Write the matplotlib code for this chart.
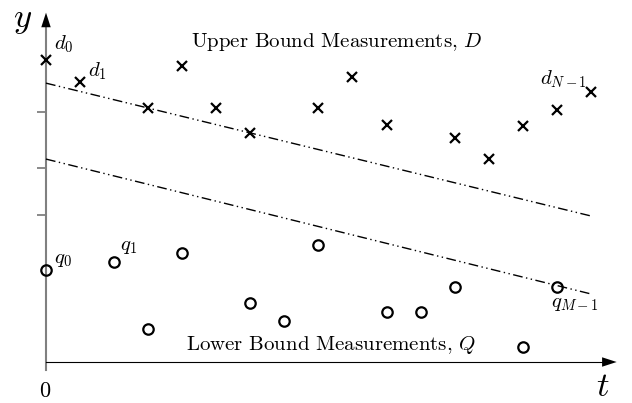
import matplotlib
matplotlib.use('Agg')
import matplotlib.pyplot as plt

plt.rcParams['mathtext.fontset'] = 'cm'
plt.rcParams['font.family'] = 'serif'
plt.rcParams['font.serif'] = ['cmr10', 'DejaVu Serif']
plt.rcParams['axes.unicode_minus'] = False

# Upper bound measurements d_i
upper_t = [0, 1, 3, 4, 5, 6, 8, 9, 10, 12, 13, 14, 15, 16]
upper_y = [8.87, 8.23, 7.47, 8.69, 7.47, 6.73, 7.46, 8.37, 6.96, 6.57, 5.95, 6.93, 7.40, 7.92]

# Lower bound measurements q_j
lower_t = [0, 2, 3, 4, 6, 7, 8, 10, 11, 12, 14, 15]
lower_y = [2.70, 2.95, 0.96, 3.21, 1.72, 1.21, 3.45, 1.46, 1.46, 2.21, 0.45, 2.21]

# Separating band (two parallel dash-dot lines)
band_t = [0, 16]
band_top = [8.19, 4.29]
band_bottom = [5.96, 2.00]

y_ticks = [7.34, 5.70, 4.32]

fig = plt.figure(figsize=(6.32, 4.03), dpi=100)
ax = fig.add_axes([0, 0, 1, 1])
ax.set_xlim(-1.351, 17.21)
ax.set_ylim(-1.204, 10.632)
ax.axis('off')

# axes with arrow heads
ax.plot([0, 0], [-0.235, 9.9], color='#808080', lw=1.5, zorder=1)
ax.plot([0, 16.4], [0, 0], color='black', lw=0.8, zorder=1)
head = dict(arrowstyle='-|>,head_length=10.5,head_width=3.4', mutation_scale=1,
            color='black', lw=0, shrinkA=0, shrinkB=0)
ax.annotate('', xy=(0, 10.26), xytext=(0, 9.84), arrowprops=head)
ax.annotate('', xy=(16.76, 0), xytext=(16.3, 0), arrowprops=head)
ax.hlines(y_ticks, -0.26, 0, color='#808080', lw=1.3, zorder=1)

dashdotdot = (0, (7, 2.5, 1, 2.5, 1, 2.5))
ax.plot(band_t, band_top, color='black', lw=1.0, linestyle=dashdotdot)
ax.plot(band_t, band_bottom, color='black', lw=1.0, linestyle=dashdotdot)

ax.plot(upper_t, upper_y, linestyle='none', marker='x', ms=7, mew=1.6, color='black', zorder=3)
ax.plot(lower_t, lower_y, linestyle='none', marker='o', ms=7.5, mew=1.6,
        mfc='none', mec='black', zorder=3)

fs = 15
ax.text(-0.68, 10.04, '$y$', fontsize=25, ha='center', va='center')
ax.text(16.36, -0.73, '$t$', fontsize=25, ha='center', va='center')
ax.text(-0.03, -0.85, '0', fontsize=16, ha='center', va='center')

ax.text(0.235, 9.34, '$d_0$', fontsize=fs, ha='left', va='center')
ax.text(1.233, 8.55, '$d_1$', fontsize=fs, ha='left', va='center')
ax.text(14.51, 8.31, '$d_{N-1}$', fontsize=fs, ha='left', va='center')
ax.text(0.235, 3.0, '$q_0$', fontsize=fs, ha='left', va='center')
ax.text(2.17, 3.38, '$q_1$', fontsize=fs, ha='left', va='center')
ax.text(14.83, 1.70, '$q_{M-1}$', fontsize=fs, ha='left', va='center')

ax.text(8.53, 9.40, 'Upper Bound Measurements, $D$', fontsize=fs, ha='center', va='center')
ax.text(8.38, 0.50, 'Lower Bound Measurements, $Q$', fontsize=fs, ha='center', va='center')

fig.savefig('out.png', dpi=100)
